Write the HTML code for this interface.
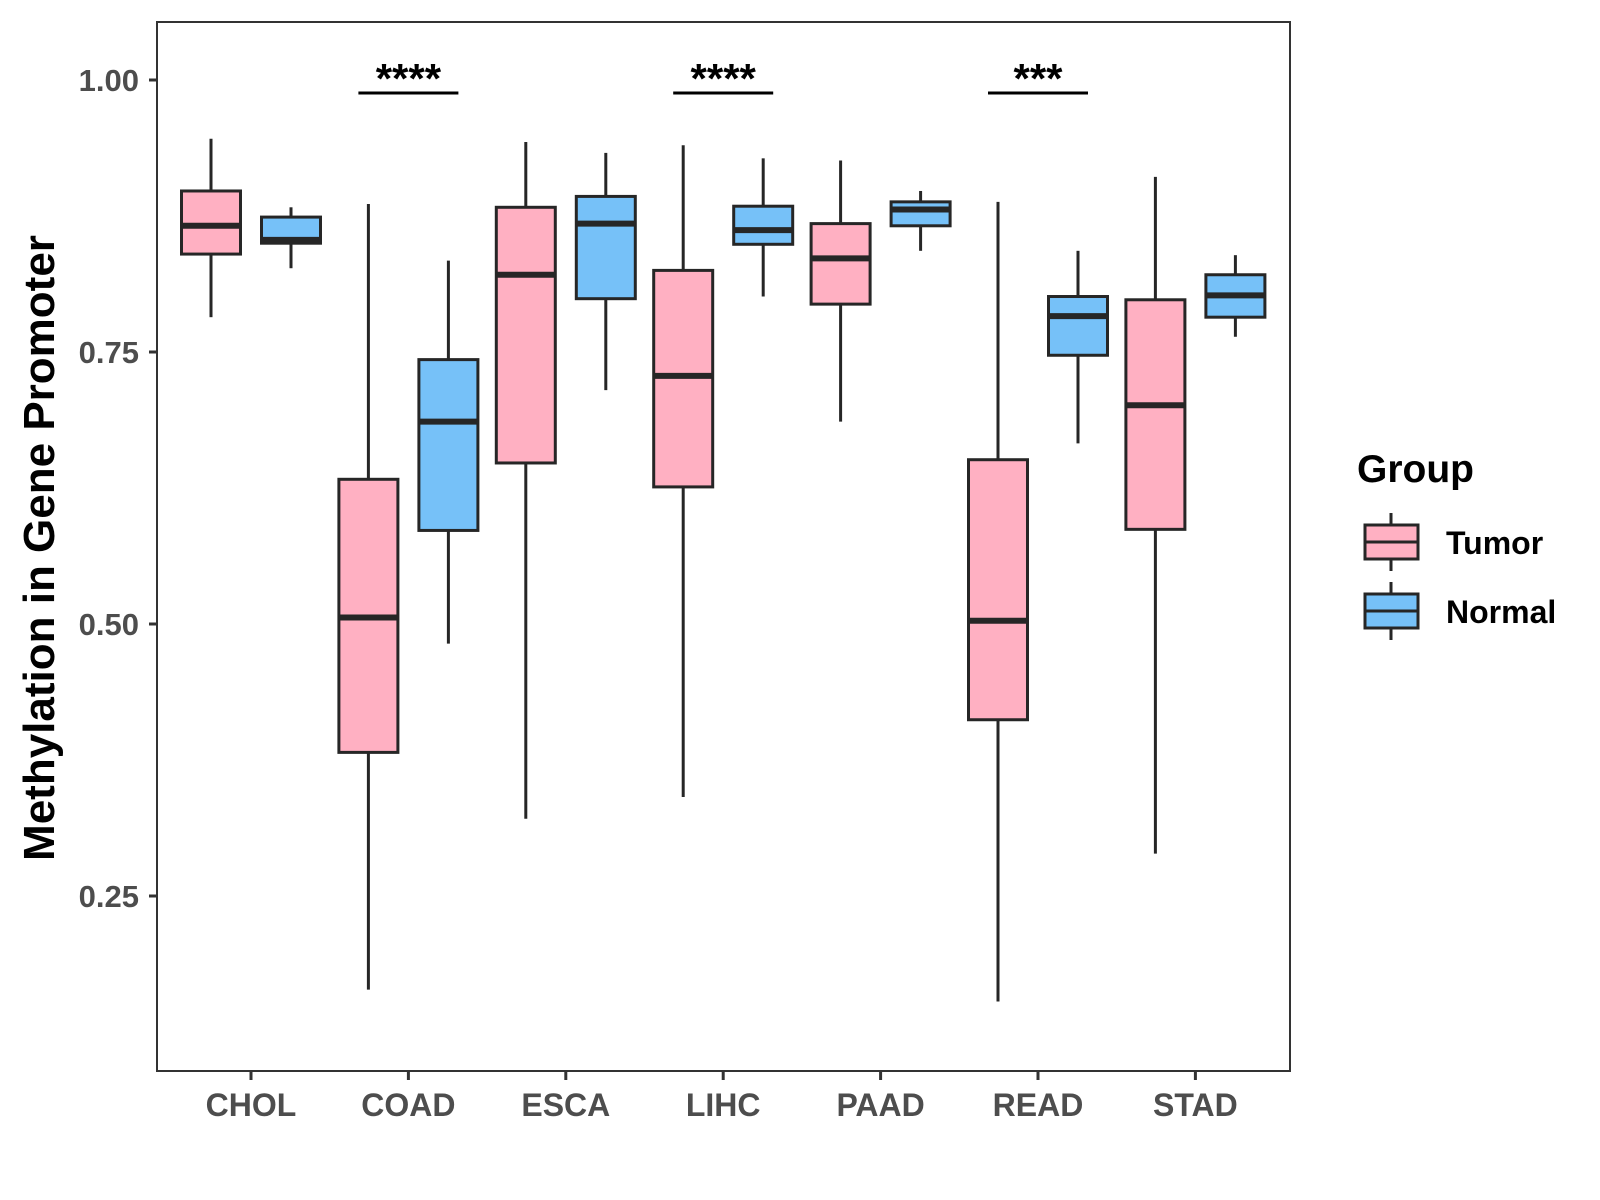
<!DOCTYPE html>
<html><head><meta charset="utf-8"><style>body{margin:0;background:#fff}svg{display:block;font-family:"Liberation Sans",Arial,sans-serif}</style></head>
<body>
<svg id="chart" width="1600" height="1200" viewBox="0 0 1600 1200"></svg>
<script>
const categories=["CHOL","COAD","ESCA","LIHC","PAAD","READ","STAD"];
const tumorLow=[0.782,0.164,0.321,0.341,0.686,0.153,0.289];
const tumorQ1=[0.840,0.382,0.648,0.626,0.794,0.412,0.587];
const tumorMed=[0.866,0.506,0.821,0.728,0.836,0.503,0.701];
const tumorQ3=[0.898,0.633,0.883,0.825,0.868,0.651,0.798];
const tumorHigh=[0.946,0.886,0.943,0.940,0.926,0.888,0.911];
const normalLow=[0.827,0.482,0.715,0.801,0.843,0.666,0.764];
const normalQ1=[0.850,0.586,0.799,0.849,0.866,0.747,0.782];
const normalMed=[0.853,0.686,0.868,0.862,0.881,0.783,0.802];
const normalQ3=[0.874,0.743,0.893,0.884,0.888,0.801,0.821];
const normalHigh=[0.883,0.834,0.933,0.928,0.898,0.843,0.839];
const yTicks=[0.25,0.5,0.75,1.0];
const yTickLabels=["0.25","0.50","0.75","1.00"];
const sigCats=["COAD","LIHC","READ"];
const sigLabels=["****","****","***"];

const NS="http://www.w3.org/2000/svg";
const svg=document.getElementById('chart');
const L=157,R=1290,T=22,B=1071;
const y=v=>80+(1-v)*1088;
const x=i=>251+i*157.4;
function mk(tag,a,parent){const e=document.createElementNS(NS,tag);for(const k in a)e.setAttribute(k,a[k]);(parent||svg).appendChild(e);return e;}
const panel=mk('rect',{x:L,y:T,width:R-L,height:B-T,fill:'#fff',stroke:'#333',"stroke-width":2});


yTicks.forEach((v,i)=>{
  const t=mk('line',{x1:L-8,x2:L,y1:y(v),y2:y(v),stroke:'#333',"stroke-width":3});
  
  
  const tx=mk('text',{x:L-18,y:y(v)+11,"text-anchor":"end","font-size":31,"font-weight":"bold",fill:'#4d4d4d'});
  tx.textContent=yTickLabels[i];
  
  
});
categories.forEach((c,i)=>{
  const t=mk('line',{x1:x(i),x2:x(i),y1:B,y2:B+9,stroke:'#333',"stroke-width":3});
  
  
  const tx=mk('text',{x:x(i),y:B+45,"text-anchor":"middle","font-size":32,"font-weight":"bold",fill:'#4d4d4d'});
  tx.textContent=c;
  
  
});
function box(cx,lo,q1,md,q3,hi,fill,name){
  const g=mk('g',{});
  
  
  const w=59;
  mk('line',{x1:cx,x2:cx,y1:y(hi),y2:y(q3),stroke:'#262626',"stroke-width":3},g);
  mk('line',{x1:cx,x2:cx,y1:y(q1),y2:y(lo),stroke:'#262626',"stroke-width":3},g);
  mk('rect',{x:cx-w/2,y:y(q3),width:w,height:y(q1)-y(q3),fill:fill,stroke:'#262626',"stroke-width":3},g);
  mk('line',{x1:cx-w/2,x2:cx+w/2,y1:y(md),y2:y(md),stroke:'#262626',"stroke-width":6},g);
}
categories.forEach((c,i)=>{
  box(x(i)-40,tumorLow[i],tumorQ1[i],tumorMed[i],tumorQ3[i],tumorHigh[i],'#FFB0C2','box-tumor-'+c.toLowerCase());
  box(x(i)+40,normalLow[i],normalQ1[i],normalMed[i],normalQ3[i],normalHigh[i],'#76C1F8','box-normal-'+c.toLowerCase());
});
sigCats.forEach((c,k)=>{
  const i=categories.indexOf(c);
  const l=mk('line',{x1:x(i)-50,x2:x(i)+50,y1:93,y2:93,stroke:'#000',"stroke-width":3});
  
  
  const t=mk('text',{x:x(i),y:93,"text-anchor":"middle","font-size":42,"font-weight":"bold",fill:'#000'});
  t.textContent=sigLabels[k];
  
  
});
</script>
<svg style="position:absolute;left:0;top:0" width="1600" height="1200">
<text x="54" y="548" transform="rotate(-90 54 548)" text-anchor="middle" font-size="44" font-weight="bold" font-family="Liberation Sans, sans-serif">Methylation in Gene Promoter</text>
<g font-family="Liberation Sans, sans-serif" font-weight="bold">
<text x="1357" y="482" font-size="39">Group</text>
<g>
<line x1="1391" x2="1391" y1="513" y2="571" stroke="#262626" stroke-width="3"/>
<rect x="1365" y="525" width="53" height="34" fill="#FFB0C2" stroke="#262626" stroke-width="3"/>
<line x1="1365" x2="1418" y1="542" y2="542" stroke="#262626" stroke-width="3"/>
<text x="1446" y="554" font-size="32">Tumor</text></g>
<g>
<line x1="1391" x2="1391" y1="582" y2="640" stroke="#262626" stroke-width="3"/>
<rect x="1365" y="594" width="53" height="34" fill="#76C1F8" stroke="#262626" stroke-width="3"/>
<line x1="1365" x2="1418" y1="611" y2="611" stroke="#262626" stroke-width="3"/>
<text x="1446" y="623" font-size="32">Normal</text></g>
</g></svg>
</body></html>
